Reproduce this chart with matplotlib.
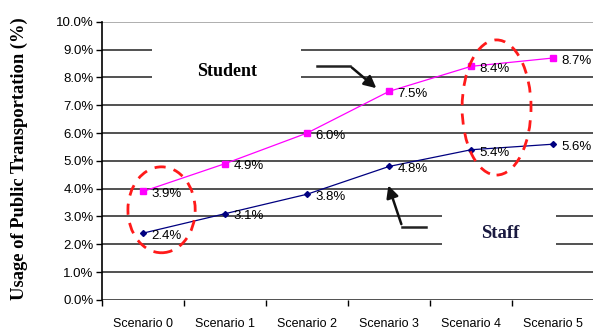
import numpy as np
import matplotlib.pyplot as plt
from matplotlib.patches import Ellipse, Rectangle

scenarios = ['Scenario 0', 'Scenario 1', 'Scenario 2', 'Scenario 3', 'Scenario 4', 'Scenario 5']
student = [3.9, 4.9, 6.0, 7.5, 8.4, 8.7]
staff = [2.4, 3.1, 3.8, 4.8, 5.4, 5.6]
yticks = [0, 1, 2, 3, 4, 5, 6, 7, 8, 9, 10]

sans = 'Liberation Sans'
serif = 'Liberation Serif'

fig = plt.figure(figsize=(5.93, 3.31), dpi=100)
ax = fig.add_axes([0.172, 0.094, 0.830, 0.840])

x = np.arange(len(scenarios))

# gridlines
for v in yticks:
    col = '#999999' if v == 10 else '#222222'
    ax.axhline(v, color=col, lw=1.1, zorder=1)

# white boxes behind the group labels
ax.add_patch(Rectangle((0.11, 7.3), 1.82, 2.3, facecolor='white', edgecolor='none', zorder=2))
ax.add_patch(Rectangle((3.65, 1.5), 1.39, 2.0, facecolor='white', edgecolor='none', zorder=2))

ax.plot(x, student, color='#ff00ff', lw=0.9, marker='s', ms=4, zorder=4)
ax.plot(x, staff, color='#000080', lw=0.9, marker='D', ms=3, zorder=4)

for xi, v in zip(x, student):
    ax.text(xi + 0.1, v - 0.1, f'{v:.1f}%', fontsize=9.5, family=sans, va='center', ha='left', zorder=5)
for xi, v in zip(x, staff):
    ax.text(xi + 0.1, v - 0.1, f'{v:.1f}%', fontsize=9.5, family=sans, va='center', ha='left', zorder=5)

ax.text(1.03, 8.2, 'Student', fontsize=13, family=serif, weight='bold', ha='center', va='center', zorder=5)
ax.text(4.35, 2.4, 'Staff', fontsize=13.5, family=serif, weight='bold', ha='center', va='center',
        color='#1a1a40', zorder=5)

# arrows
ax.plot([2.12, 2.52], [8.42, 8.42], color='#222222', lw=1.8, zorder=5)
ax.annotate('', xy=(2.87, 7.55), xytext=(2.52, 8.42),
            arrowprops=dict(arrowstyle='-|>', color='#111111', lw=1.8, mutation_scale=18), zorder=5)
ax.plot([3.45, 3.16], [2.63, 2.63], color='#222222', lw=1.8, zorder=5)
ax.annotate('', xy=(2.98, 4.21), xytext=(3.16, 2.63),
            arrowprops=dict(arrowstyle='-|>', color='#111111', lw=1.8, mutation_scale=18), zorder=5)

# dashed highlight ellipses
ax.add_patch(Ellipse((0.226, 3.24), 0.82, 3.09, fill=False, edgecolor='#ff1a1a', lw=2, ls=(0, (4, 3)), zorder=6))
ax.add_patch(Ellipse((4.31, 6.92), 0.84, 4.86, fill=False, edgecolor='#ff1a1a', lw=2, ls=(0, (4, 3)), zorder=6))

ax.set_xlim(-0.5, 5.5)
ax.set_ylim(0, 10)
ax.set_yticks(yticks)
ax.set_yticklabels([f'{v:.1f}%' for v in yticks], fontsize=9.5, family=sans)
ax.set_xticks(np.arange(-0.5, 6.0, 1.0))
ax.set_xticklabels([])
ax.set_xticks(x, minor=True)
ax.set_xticklabels(scenarios, minor=True, fontsize=9, family=sans)
ax.tick_params(axis='x', which='minor', length=0, pad=13)
ax.tick_params(axis='x', which='major', length=4, width=1, direction='out')
ax.tick_params(axis='y', length=4, width=1, direction='out', pad=2)

for s in ['top', 'right', 'bottom']:
    ax.spines[s].set_visible(False)
ax.spines['left'].set_linewidth(1.2)

fig.text(0.032, 0.52, 'Usage of Public Transportation (%)', fontsize=13.3, family=serif, weight='bold',
         rotation=90, ha='center', va='center')

fig.savefig('out.png', dpi=100)
